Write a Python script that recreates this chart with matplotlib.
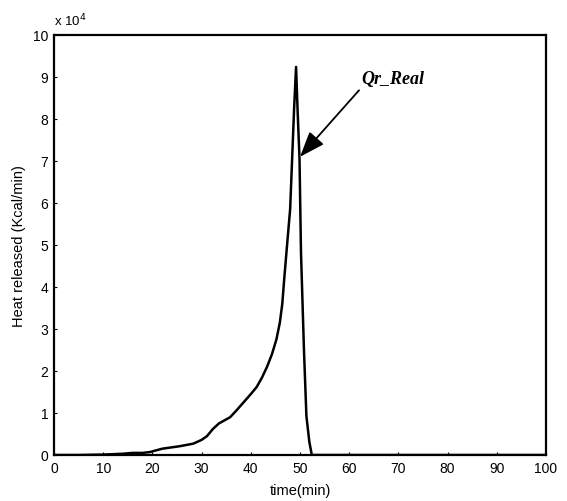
import matplotlib
matplotlib.use("Agg")
import matplotlib.pyplot as plt

# time (min) and heat released (x 10^4 Kcal/min)
time_min = [0, 5, 10, 14, 16, 18, 19.5, 22, 25.6, 28.3, 30, 31.1, 32.3, 33.5,
            35.8, 37.0, 38.5, 40.0, 41.2, 42.3, 43.3, 44.3, 45.2, 45.9, 46.4, 46.8, 47.3,
            48.0, 48.4, 48.8, 49.2,
            49.5, 49.9, 50.2, 50.8, 51.3, 51.9, 52.4, 55, 100]
heat_e4 = [0, 0, 0.01, 0.03, 0.05, 0.05, 0.07, 0.15, 0.21, 0.27, 0.36, 0.45, 0.62, 0.75,
           0.9, 1.05, 1.25, 1.45, 1.62, 1.85, 2.1, 2.4, 2.75, 3.15, 3.6, 4.2, 4.9,
           5.86, 7.05, 8.24, 9.24,
           8.24, 7.05, 4.83, 2.52, 0.93, 0.31, 0, 0, 0]

xticks = list(range(0, 101, 10))
yticks = list(range(0, 11))

fig = plt.figure(figsize=(5.67, 5.02), dpi=100)
ax = fig.add_axes([54/567, 1-456/502, (546-54)/567, (456-36)/502])
ax.plot(time_min, heat_e4, color="black", lw=1.8)
ax.set_xlim(0, 100)
ax.set_ylim(0, 10)
ax.set_xticks(xticks)
ax.set_yticks(yticks)
ax.tick_params(direction="in", length=2, labelsize=10, pad=4)
for lab in ax.get_xticklabels() + ax.get_yticklabels():
    lab.set_fontfamily("Liberation Sans")
for s in ax.spines.values():
    s.set_linewidth(1.6)
ax.set_xlabel("time(min)", fontsize=10.5, fontfamily="Liberation Sans", labelpad=6)
ax.set_ylabel("Heat released (Kcal/min)", fontsize=10.5, fontfamily="Liberation Sans", labelpad=5)
ax.text(0.0, 1.015, r"x 10$^4$", transform=ax.transAxes, fontsize=9.5,
        fontfamily="Liberation Sans", ha="left", va="bottom")
ax.annotate("Qr_Real", xy=(50.0, 7.1), xytext=(62.5, 8.75),
            fontsize=13, fontstyle="italic", fontweight="bold", fontfamily="Liberation Serif",
            ha="left", va="bottom",
            arrowprops=dict(arrowstyle="-|>,head_length=1.2,head_width=0.45", color="black", lw=1.3,
                            shrinkA=0, shrinkB=0, relpos=(0.0, 0.0)))
fig.savefig("out.png", dpi=100)
